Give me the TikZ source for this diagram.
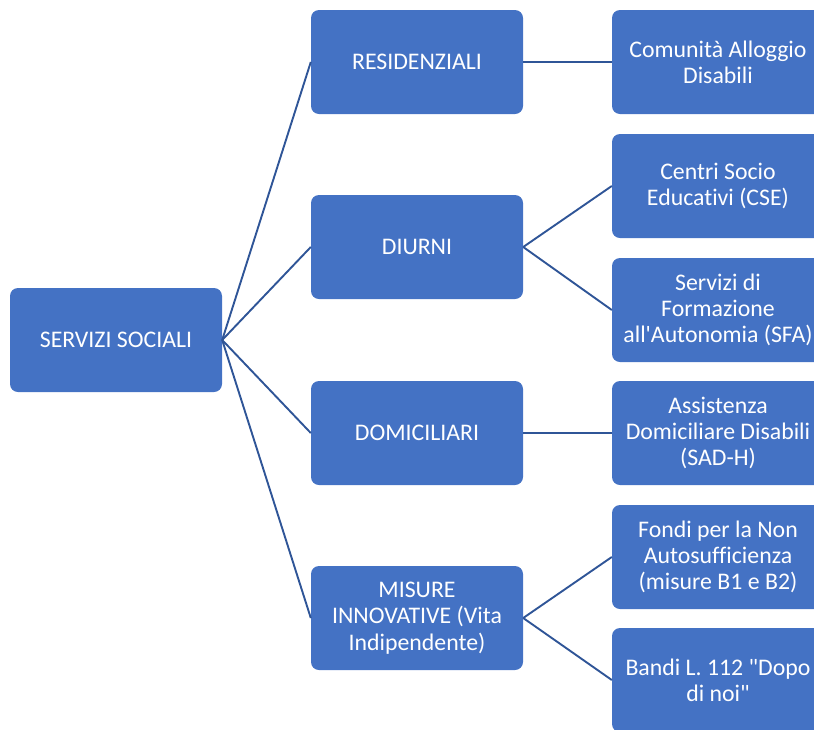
\documentclass[tikz,border=0pt]{standalone}
\usepackage{fontspec}
\newfontfamily\cf{Carlito}[Ligatures=NoCommon]
\definecolor{boxblue}{HTML}{4472C4}
\definecolor{lineblue}{HTML}{2F5597}
\begin{document}
\begin{tikzpicture}[x=1pt,y=-1pt,
  box/.style={rectangle, rounded corners=8pt, fill=boxblue, draw=none,
    minimum width=212pt, minimum height=104pt, text=white, align=center,
    font=\cf\fontsize{23.8}{26.3}\selectfont, inner sep=2pt},
  conn/.style={draw=lineblue, line width=1.9pt}]
\useasboundingbox (0,0) rectangle (814,729);
\clip (0,0) rectangle (814,729);
\node[box] (root) at (116,340) {SERVIZI SOCIALI};
\node[box] (res) at (417,62) {RESIDENZIALI};
\node[box] (diu) at (417,247) {DIURNI};
\node[box] (dom) at (417,433) {DOMICILIARI};
\node[box] (mis) at (417,618) {MISURE\\INNOVATIVE (Vita\\Indipendente)};
\node[box] (cad) at (718,62) {Comunità Alloggio\\Disabili};
\node[box] (cse) at (718,186) {Centri Socio\\Educativi (CSE)};
\node[box] (sfa) at (718,310) {Servizi di\\Formazione\\all'Autonomia (SFA)};
\node[box] (sad) at (718,433) {Assistenza\\Domiciliare Disabili\\(SAD-H)};
\node[box] (fna) at (718,557) {Fondi per la Non\\Autosufficienza\\(misure B1 e B2)};
\node[box] (ban) at (718,680) {Bandi L. 112 "Dopo\\di noi"};
\foreach \c in {res,diu,dom,mis} \draw[conn] (root.east) -- (\c.west);
\draw[conn] (res.east) -- (cad.west);
\draw[conn] (diu.east) -- (cse.west);
\draw[conn] (diu.east) -- (sfa.west);
\draw[conn] (dom.east) -- (sad.west);
\draw[conn] (mis.east) -- (fna.west);
\draw[conn] (mis.east) -- (ban.west);
\end{tikzpicture}
\end{document}
